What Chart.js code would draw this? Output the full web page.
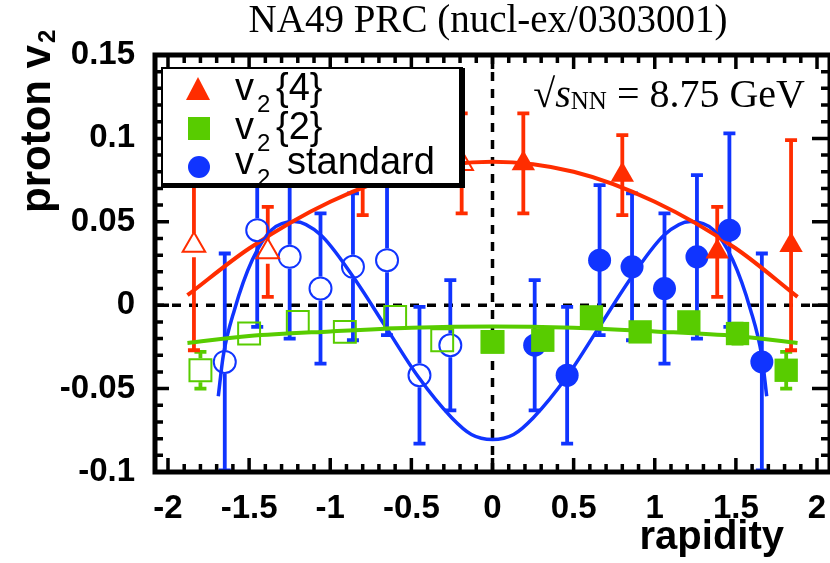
<!DOCTYPE html>
<html>
<head>
<meta charset="utf-8">
<script src="https://cdn.jsdelivr.net/npm/chart.js@4.4.0/dist/chart.umd.min.js"></script>
<style>
  html, body { margin: 0; padding: 0; background: #fff; }
  #wrap { width: 830px; height: 563px; }
</style>
</head>
<body>
<div id="wrap"><canvas id="c" width="830" height="563"></canvas></div>
<script>
// v2 standard: measured (filled) and reflected (open)
const stdX = [0.26, 0.46, 0.66, 0.86, 1.06, 1.26, 1.46, 1.66];
const stdY = [-0.024, -0.042, 0.027, 0.023, 0.010, 0.029, 0.045, -0.034];
const stdErr = [0.039, 0.041, 0.045, 0.044, 0.045, 0.049, 0.058, 0.065];
const stdOpenX = [-0.26, -0.45, -0.65, -0.86, -1.06, -1.25, -1.45, -1.65];
const stdOpenY = [-0.024, -0.042, 0.027, 0.023, 0.010, 0.029, 0.045, -0.034];
const stdOpenErr = [0.039, 0.041, 0.045, 0.044, 0.045, 0.049, 0.058, 0.065];

// v2{4}
const v4X = [0.19, 0.80, 1.385, 1.84];
const v4Y = [0.085, 0.078, 0.032, 0.036];
const v4Err = [0.030, 0.024, 0.027, 0.063];
const v4OpenX = [-0.19, -0.80, -1.385, -1.84];
const v4OpenY = [0.085, 0.078, 0.032, 0.036];
const v4OpenErr = [0.030, 0.024, 0.027, 0.063];

// v2{2}
const v2X = [0.0, 0.31, 0.61, 0.91, 1.21, 1.51, 1.81];
const v2Y = [-0.022, -0.021, -0.007, -0.016, -0.010, -0.017, -0.039];
const v2Err = [0.005, 0.005, 0.005, 0.005, 0.005, 0.006, 0.011];
const v2OpenX = [0.0, -0.31, -0.60, -0.91, -1.20, -1.50, -1.80];
const v2OpenY = [-0.022, -0.021, -0.007, -0.016, -0.010, -0.017, -0.039];
const v2OpenErr = [0.005, 0.005, 0.005, 0.005, 0.005, 0.006, 0.011];

// fit curves
const fit4X = [-1.88, -1.5, -1.0, -0.5, 0, 0.5, 1.0, 1.5, 1.88];
const fit4Y = [0.006, 0.034, 0.062, 0.080, 0.086, 0.080, 0.062, 0.034, 0.005];
const fit2X = [-1.88, -1.5, -1.0, -0.5, 0, 0.5, 1.0, 1.5, 1.88];
const fit2Y = [-0.0226, -0.0185, -0.0157, -0.0135, -0.0127, -0.0135, -0.0157, -0.0185, -0.0226];
const fitStdX = [-1.69, -1.66, -1.59, -1.48, -1.36, -1.22, -1.06, -0.86, -0.66, -0.46, -0.25, -0.13, 0,
                 0.13, 0.25, 0.46, 0.66, 0.86, 1.06, 1.22, 1.36, 1.48, 1.59, 1.66, 1.69];
const fitStdY = [-0.0546, -0.0307, -0.0027, 0.0272, 0.0452, 0.0502, 0.0422, 0.0172, -0.0127, -0.0426, -0.0676, -0.0775, -0.0805,
                 -0.0775, -0.0676, -0.0426, -0.0127, 0.0172, 0.0422, 0.0502, 0.0452, 0.0272, -0.0027, -0.0307, -0.0546];

const xTicks = [-2, -1.5, -1, -0.5, 0, 0.5, 1, 1.5, 2];
const yTicks = [-0.1, -0.05, 0, 0.05, 0.1, 0.15];

const RED = "#ff2d00";
const GREEN = "#58cc00";
const BLUE = "#1034ff";
const SANS = "'Liberation Sans', Arial, sans-serif";
const SERIF = "'Liberation Serif', 'Times New Roman', serif";

const pts = (xs, ys) => xs.map((x, i) => ({ x, y: ys[i] }));

function markers(xs, ys, errs, color, style, radius, open, order) {
  return {
    data: pts(xs, ys),
    errors: errs,
    open,
    showLine: false,
    pointStyle: style,
    pointRadius: radius,
    pointBackgroundColor: open ? "rgba(0,0,0,0)" : color,
    pointBorderColor: color,
    pointBorderWidth: open ? 2 : 0,
    borderColor: color,
    order,
  };
}

function curve(xs, ys, color, width, order) {
  return {
    data: pts(xs, ys),
    showLine: true,
    borderColor: color,
    borderWidth: width,
    pointRadius: 0,
    cubicInterpolationMode: "monotone",
    order,
  };
}

const errorBars = {
  id: "errorBars",
  beforeDatasetsDraw(chart) {
    const { ctx, chartArea } = chart;
    const xs = chart.scales.x, ys = chart.scales.y;

    // dashed zero lines
    ctx.save();
    ctx.strokeStyle = "#000";
    ctx.lineWidth = 3.5;
    ctx.setLineDash([9, 8]);
    const y0 = ys.getPixelForValue(0), x0 = xs.getPixelForValue(0);
    ctx.beginPath();
    ctx.moveTo(chartArea.left, y0);
    ctx.lineTo(chartArea.right, y0);
    ctx.moveTo(x0, chartArea.top);
    ctx.lineTo(x0, chartArea.bottom);
    ctx.stroke();
    ctx.restore();

    chart.data.datasets.forEach((ds) => {
      if (!ds.errors) return;
      ctx.save();
      ctx.strokeStyle = ds.borderColor;
      ctx.lineWidth = 3.8;
      ds.data.forEach((p, j) => {
        const px = xs.getPixelForValue(p.x);
        const py = ys.getPixelForValue(p.y);
        const top = Math.max(ys.getPixelForValue(p.y + ds.errors[j]), chartArea.top);
        const bot = Math.min(ys.getPixelForValue(p.y - ds.errors[j]), chartArea.bottom);
        const gap = ds.open ? 12 : 0;
        ctx.beginPath();
        if (py - top > gap) {
          ctx.moveTo(px, top);
          ctx.lineTo(px, py - gap);
          ctx.moveTo(px - 6, top);
          ctx.lineTo(px + 6, top);
        }
        if (bot - py > gap) {
          ctx.moveTo(px, py + gap);
          ctx.lineTo(px, bot);
          ctx.moveTo(px - 6, bot);
          ctx.lineTo(px + 6, bot);
        }
        ctx.stroke();
      });
      ctx.restore();
    });
  },
};

const decorations = {
  id: "decorations",
  afterDatasetsDraw(chart) {
    const { ctx, chartArea } = chart;
    const { left, right, top, bottom } = chartArea;
    const xs = chart.scales.x, ys = chart.scales.y;

    // frame with inward ticks
    ctx.save();
    ctx.strokeStyle = "#000";
    ctx.lineWidth = 5;
    ctx.strokeRect(left, top, right - left, bottom - top);
    ctx.beginPath();
    for (let k = -20; k <= 20; k++) {
      const px = xs.getPixelForValue(k / 10);
      const len = k % 5 === 0 ? 14 : 8;
      ctx.moveTo(px, bottom);
      ctx.lineTo(px, bottom - len);
      ctx.moveTo(px, top);
      ctx.lineTo(px, top + len);
    }
    for (let k = -10; k <= 15; k++) {
      const py = ys.getPixelForValue(k / 100);
      const major = k % 5 === 0;
      ctx.moveTo(left, py);
      ctx.lineTo(left + (major ? 14 : 8), py);
      ctx.moveTo(right, py);
      ctx.lineTo(right - (major ? 18 : 9), py);
    }
    ctx.lineWidth = 3.5;
    ctx.stroke();
    ctx.restore();

    // legend box
    ctx.save();
    ctx.fillStyle = "#fff";
    ctx.fillRect(162, 68, 301, 119);
    ctx.strokeStyle = "#000";
    ctx.lineWidth = 2;
    ctx.strokeRect(162, 68, 300, 118);
    ctx.fillStyle = "#000";
    ctx.fillRect(459, 68, 6, 120);
    ctx.fillRect(162, 183, 303, 5);

    ctx.fillStyle = RED;
    ctx.beginPath();
    ctx.moveTo(198, 77);
    ctx.lineTo(210, 100);
    ctx.lineTo(186, 100);
    ctx.closePath();
    ctx.fill();
    ctx.fillStyle = GREEN;
    ctx.fillRect(188, 117, 22, 23);
    ctx.fillStyle = BLUE;
    ctx.beginPath();
    ctx.arc(199, 167, 11, 0, Math.PI * 2);
    ctx.fill();

    ctx.fillStyle = "#000";
    ctx.textBaseline = "alphabetic";
    ctx.textAlign = "left";
    const rows = [["{4}", 100, 276], ["{2}", 139, 276], ["standard", 174, 287]];
    rows.forEach(([rest, base, rx]) => {
      ctx.font = `38px ${SANS}`;
      ctx.fillText("v", 235, base);
      ctx.font = `24px ${SANS}`;
      ctx.fillText("2", 257, base + 12);
      ctx.font = `38px ${SANS}`;
      ctx.fillText(rest, rx, base);
    });
    ctx.restore();

    // energy annotation
    ctx.save();
    ctx.fillStyle = "#000";
    ctx.textBaseline = "alphabetic";
    const parts = [
      ["\u221A", `40px ${SERIF}`, 0],
      ["s", `italic 40px ${SERIF}`, 0],
      ["NN", `25px ${SERIF}`, 2],
      [" = 8.75 GeV", `40px ${SERIF}`, 0],
    ];
    let total = 0;
    parts.forEach(([t, f]) => { ctx.font = f; total += ctx.measureText(t).width; });
    let x = 805 - total;
    parts.forEach(([t, f, dy]) => {
      ctx.font = f;
      ctx.fillText(t, x, 107 + dy);
      x += ctx.measureText(t).width;
    });
    ctx.restore();
  },
  afterDraw(chart) {
    const { ctx } = chart;
    ctx.save();
    ctx.fillStyle = "#000";
    ctx.textBaseline = "alphabetic";
    ctx.textAlign = "center";
    ctx.font = `39px ${SERIF}`;
    ctx.fillText("NA49 PRC (nucl-ex/0303001)", 488, 32);

    ctx.textAlign = "right";
    ctx.font = `bold 40px ${SANS}`;
    ctx.fillText("rapidity", 784, 549);

    ctx.translate(50, 213);
    ctx.rotate(-Math.PI / 2);
    ctx.textAlign = "left";
    ctx.font = `bold 42px ${SANS}`;
    ctx.fillText("proton v", 0, 0);
    const w = ctx.measureText("proton v").width;
    ctx.font = `bold 24px ${SANS}`;
    ctx.fillText("2", w + 2, 5);
    ctx.restore();
  },
};

const tickFont = { family: SANS, size: 33, weight: "bold" };

new Chart(document.getElementById("c"), {
  type: "scatter",
  data: {
    datasets: [
      markers(v2X, v2Y, v2Err, GREEN, "rect", 16.5, false, 1),
      markers(v2OpenX, v2OpenY, v2OpenErr, GREEN, "rect", 15.5, true, 2),
      markers(v4X, v4Y, v4Err, RED, "triangle", 13.5, false, 3),
      markers(v4OpenX, v4OpenY, v4OpenErr, RED, "triangle", 13, true, 4),
      markers(stdX, stdY, stdErr, BLUE, "circle", 11.5, false, 5),
      markers(stdOpenX, stdOpenY, stdOpenErr, BLUE, "circle", 11, true, 6),
      curve(fit2X, fit2Y, GREEN, 4, 7),
      curve(fit4X, fit4Y, RED, 4, 8),
      curve(fitStdX, fitStdY, BLUE, 3.5, 9),
    ],
  },
  options: {
    responsive: false,
    animation: false,
    events: [],
    layout: { autoPadding: false, padding: { left: 0, right: 0, top: 55, bottom: 0 } },
    plugins: { legend: { display: false }, tooltip: { enabled: false } },
    scales: {
      x: {
        type: "linear",
        min: -2.08,
        max: 2.08,
        afterBuildTicks(scale) {
          scale.ticks = xTicks.map((v) => ({ value: v }));
        },
        afterFit(scale) {
          scale.height = 91;
          scale.paddingLeft = 0;
          scale.paddingRight = 0;
          if (scale._margins) {
            scale._margins.left = 0;
            scale._margins.right = 0;
          }
        },
        grid: { display: false },
        border: { display: false },
        ticks: {
          font: tickFont,
          color: "#000",
          padding: 9,
          maxRotation: 0,
          autoSkip: false,
          callback: (v) => String(Math.round(v * 10) / 10),
        },
      },
      y: {
        min: -0.1,
        max: 0.15,
        afterBuildTicks(scale) {
          scale.ticks = yTicks.map((v) => ({ value: v }));
        },
        afterFit(scale) {
          scale.width = 155;
          scale.paddingTop = 0;
          scale.paddingBottom = 0;
        },
        grid: { display: false },
        border: { display: false },
        ticks: {
          font: tickFont,
          color: "#000",
          padding: 12,
          callback: (v) => String(Math.round(v * 100) / 100),
        },
      },
    },
  },
  plugins: [errorBars, decorations],
});
</script>
</body>
</html>
